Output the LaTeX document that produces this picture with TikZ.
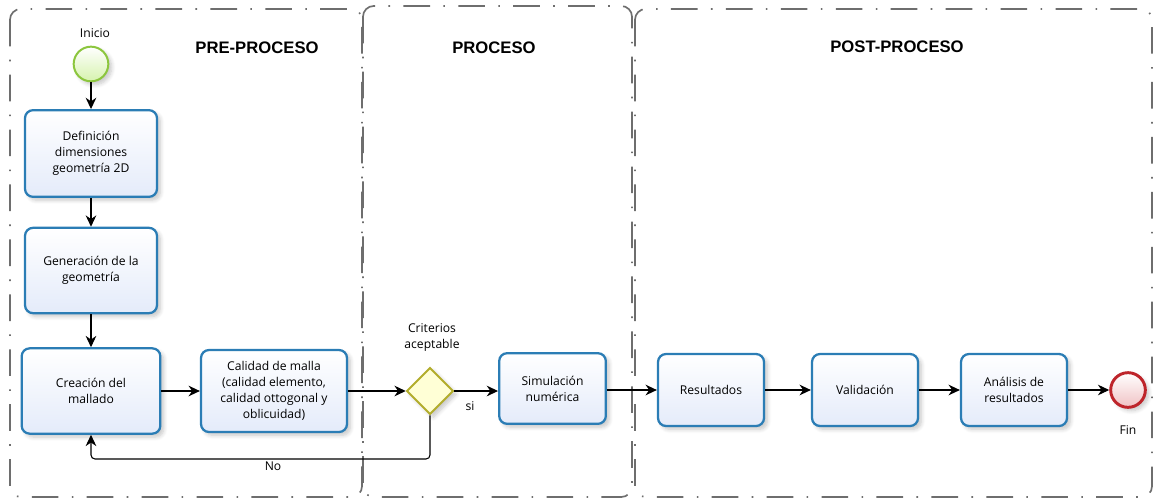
\documentclass[tikz,border=0pt]{standalone}
\usepackage{fontspec}
\setmainfont{Open Sans}
\newfontfamily\titlefont{Liberation Sans}
\usetikzlibrary{shapes.geometric,arrows.meta,shadows.blur}

\definecolor{taskline}{HTML}{2B7DB5}
\definecolor{taskfill}{HTML}{E4EBFA}
\definecolor{startline}{HTML}{8CC63E}
\definecolor{startfill}{HTML}{D6F3AE}
\definecolor{endline}{HTML}{BE252B}
\definecolor{endfill}{HTML}{F0C2C4}
\definecolor{gateline}{HTML}{B2AD2C}
\definecolor{gatefill}{HTML}{FFFFD6}
\definecolor{groupline}{HTML}{6E6E6E}

\tikzset{
  softshadow/.style={blur shadow={shadow blur steps=6, shadow xshift=2.5pt,
      shadow yshift=-2.5pt, shadow opacity=22, shadow blur radius=3pt}},
  task/.style={draw=taskline, line width=1.7pt, rounded corners=6pt,
      top color=white, bottom color=taskfill, align=center, inner sep=2pt,
      font=\fontsize{9.1}{12}\selectfont, softshadow},
  startev/.style={circle, draw=startline, line width=1.5pt, minimum size=26pt,
      inner sep=0pt, top color=white, bottom color=startfill, softshadow},
  endev/.style={circle, draw=endline, line width=2.2pt, minimum size=26pt,
      inner sep=0pt, top color=white, bottom color=endfill, softshadow},
  gateway/.style={diamond, draw=gateline, line width=1.4pt, minimum size=35pt,
      inner sep=0pt, fill=gatefill, softshadow},
  flow/.style={draw=black, line width=0.8pt, -{Stealth[length=8.5pt,width=8pt]}},
  lbl/.style={align=center, font=\fontsize{9.1}{12}\selectfont, inner sep=0pt},
  title/.style={font=\titlefont\bfseries\fontsize{12.5}{14}\selectfont, inner sep=0pt},
  grp/.style={draw=groupline, line width=1.25pt, rounded corners=8pt,
      dash pattern=on 20pt off 10pt on 1.2pt off 10pt},
}

\begin{document}
\begin{tikzpicture}[x=0.75pt, y=-0.75pt]
\useasboundingbox (0,0) rectangle (1155,500);

% lane groups
\draw[grp] (10,9) rectangle (362,497);
\draw[grp] (363,6) rectangle (632,497);
\draw[grp] (635,9) rectangle (1152,497);

\node[title] (tpre)  at (257,48) {PRE-PROCESO};
\node[title] (tpro)  at (494,48) {PROCESO};
\node[title] (tpost) at (897,47) {POST-PROCESO};

% events, tasks and gateway
\node[startev] (ini) at (91,64) {};
\node[lbl] (inilbl) at (95,33) {Inicio};

\node[task, minimum width=99pt, minimum height=65pt] (def) at (91,153.5)
  {Definición\\dimensiones\\geometría 2D};
\node[task, minimum width=99pt, minimum height=64pt] (gen) at (91,270.5)
  {Generación de la\\geometría};
\node[task, minimum width=104pt, minimum height=64pt] (cre) at (91,391)
  {Creación del\\mallado};
\node[task, minimum width=109.5pt, minimum height=61.5pt] (cal) at (274,391)
  {Calidad de malla\\(calidad elemento,\\calidad ottogonal y\\oblicuidad)};

\node[gateway] (gw) at (430,391) {};
\node[lbl] (gwlbl) at (432,337) {Criterios\\aceptable};

\node[task, minimum width=80pt, minimum height=53pt] (sim) at (552.5,388.5)
  {Simulación\\numérica};
\node[task, minimum width=79.5pt, minimum height=54pt] (res) at (711,390)
  {Resultados};
\node[task, minimum width=79.5pt, minimum height=54pt] (val) at (865,390)
  {Validación};
\node[task, minimum width=79.5pt, minimum height=54pt] (ana) at (1014,390)
  {Análisis de\\resultados};

\node[endev] (fin) at (1128,390) {};
\node[lbl] (finlbl) at (1128,430) {Fin};

% sequence flows
\draw[flow] (ini) -- (def);
\draw[flow] (def) -- (gen);
\draw[flow] (gen) -- (cre);
\draw[flow] (cre) -- (cal);
\draw[flow] (cal) -- (gw);
\draw[flow] (gw.east) -- (gw.east -| sim.west);
\draw[flow] (sim.east |- res.west) -- (res.west);
\draw[flow] (res) -- (val);
\draw[flow] (val) -- (ana);
\draw[flow] (ana) -- (fin);

\coordinate (loopR) at (430,459);
\coordinate (loopL) at (91,459);
\draw[flow, rounded corners=3pt] (gw.south) -- (loopR) -- (loopL) -- (cre.south);

\node[lbl] (silbl) at (470,406) {si};
\node[lbl] (nolbl) at (273,466) {No};
\end{tikzpicture}
\end{document}
